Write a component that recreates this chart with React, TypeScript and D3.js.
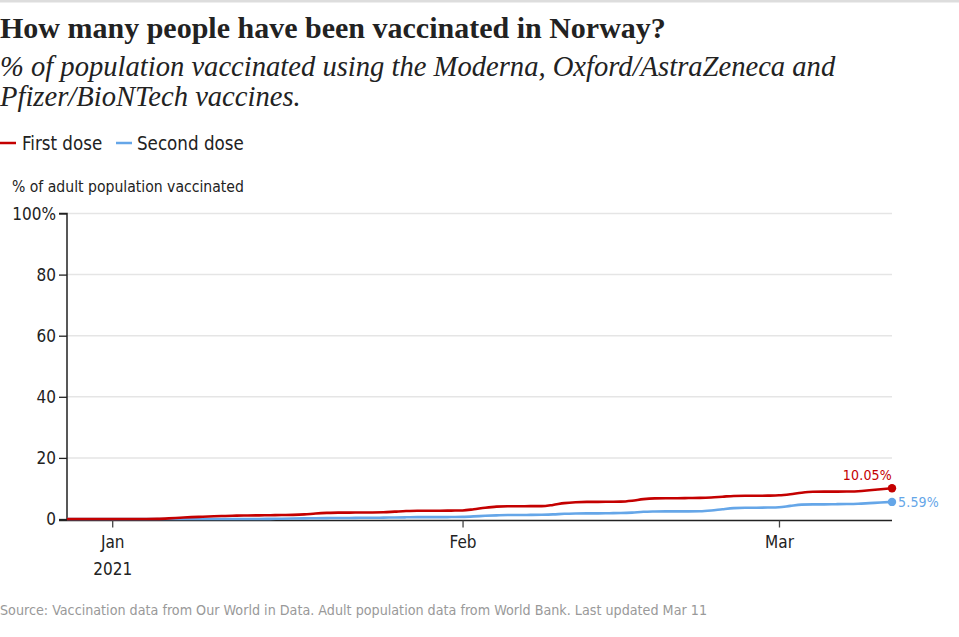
import React from 'react';
import * as d3 from 'd3';

// daily values, 28 Dec 2020 .. 11 Mar 2021
const startDate = new Date(2020, 11, 28);
const endDate = new Date(2021, 2, 11);

const firstDose = [
  0, 0, 0, 0, 0, 0, 0, 0, 0.05, 0.2, 0.4, 0.6, 0.75, 0.9, 1.0, 1.1, 1.15, 1.2, 1.25, 1.3,
  1.35, 1.5, 1.8, 2.0, 2.1, 2.1, 2.15, 2.15, 2.2, 2.4, 2.6, 2.7, 2.7, 2.7, 2.75, 2.8, 3.2, 3.7,
  4.05, 4.15, 4.15, 4.2, 4.2, 4.6, 5.2, 5.5, 5.6, 5.6, 5.65, 5.7, 6.0, 6.5, 6.75, 6.8, 6.8, 6.85,
  6.9, 7.05, 7.3, 7.55, 7.6, 7.6, 7.65, 7.75, 8.1, 8.6, 8.9, 8.95, 8.95, 9.0, 9.1, 9.4, 9.75, 10.05
];

const secondDose = [
  0, 0, 0, 0, 0, 0, 0, 0, 0, 0, 0, 0, 0, 0, 0, 0, 0, 0, 0.05, 0.1,
  0.15, 0.2, 0.25, 0.3, 0.35, 0.35, 0.4, 0.4, 0.45, 0.5, 0.55, 0.6, 0.6, 0.6, 0.65, 0.7, 0.85, 1.05,
  1.2, 1.3, 1.3, 1.35, 1.4, 1.5, 1.7, 1.8, 1.85, 1.85, 1.9, 1.95, 2.1, 2.35, 2.45, 2.5, 2.5, 2.5,
  2.55, 2.8, 3.2, 3.55, 3.7, 3.7, 3.75, 3.85, 4.3, 4.7, 4.8, 4.8, 4.85, 4.9, 5.0, 5.2, 5.4, 5.59
];

const yTicks = [0, 20, 40, 60, 80, 100];
const xTicks = [new Date(2021, 0, 1), new Date(2021, 1, 1), new Date(2021, 2, 1)];
const xTickLabels = ['Jan', 'Feb', 'Mar'];

const RED = '#c40000';
const BLUE = '#65a6e8';
const SANS = "'DejaVu Sans Condensed', 'DejaVu Sans', sans-serif";
const SERIF = "'Liberation Serif', 'Times New Roman', serif";

const App: React.FC = () => {
  const svgRef = React.useRef<SVGSVGElement>(null);
  const width = 959;
  const height = 637;
  const left = 67;
  const right = 892;
  const top = 213.5;
  const bottom = 519;

  React.useEffect(() => {
    if (!svgRef.current) return;
    const svg = d3.select(svgRef.current);
    svg.selectAll('.chart').remove();

    const dates = d3.timeDay.range(startDate, d3.timeDay.offset(endDate, 1));

    const x = d3.scaleTime().domain([startDate, endDate]).range([left, right]);
    const y = d3.scaleLinear().domain([0, 100]).range([bottom, top]);

    const g = svg.append('g').attr('class', 'chart');

    // gridlines
    g.append('g')
      .selectAll('line')
      .data(yTicks.filter(t => t > 0))
      .enter().append('line')
      .attr('x1', left)
      .attr('x2', right)
      .attr('y1', d => y(d))
      .attr('y2', d => y(d))
      .attr('stroke', '#e5e5e5')
      .attr('stroke-width', 1.5);

    // y axis
    const yAxis = g.append('g')
      .attr('transform', `translate(${left},0)`)
      .call(
        d3.axisLeft(y)
          .tickValues(yTicks)
          .tickSize(8)
          .tickPadding(3)
          .tickFormat(d => (+d === 100 ? '100%' : String(d)))
      );
    yAxis.select('.domain').attr('stroke', '#222').attr('stroke-width', 1.5)
      .attr('d', `M-8,${top}H0V${bottom + 1.5}`);
    yAxis.selectAll('.tick line').attr('stroke', '#222').attr('stroke-width', 1.3);
    yAxis.selectAll('.tick text')
      .attr('font-family', SANS)
      .attr('font-size', 17)
      .attr('fill', '#222')
      .attr('dy', '0.35em');

    // x axis
    const xAxis = g.append('g')
      .attr('transform', `translate(0,${bottom + 1.5})`)
      .call(
        d3.axisBottom(x)
          .tickValues(xTicks)
          .tickSize(7)
          .tickPadding(8)
          .tickFormat((_, i) => xTickLabels[i])
      );
    xAxis.select('.domain').attr('stroke', '#222').attr('stroke-width', 1.5)
      .attr('d', `M${left - 8},0H${right}`);
    xAxis.selectAll('.tick line').attr('stroke', '#444').attr('stroke-width', 1.3);
    xAxis.selectAll('.tick text')
      .attr('font-family', SANS)
      .attr('font-size', 17)
      .attr('fill', '#222');
    xAxis.select('.tick text')
      .append('tspan')
      .attr('x', 0)
      .attr('dy', '1.6em')
      .text('2021');

    const line = d3.line<number>()
      .x((_, i) => x(dates[i]))
      .y(d => y(d))
      .curve(d3.curveMonotoneX);

    const series = [
      { values: secondDose, color: BLUE },
      { values: firstDose, color: RED }
    ];

    series.forEach(s => {
      g.append('path')
        .datum(s.values)
        .attr('fill', 'none')
        .attr('stroke', s.color)
        .attr('stroke-width', 2.6)
        .attr('stroke-linejoin', 'round')
        .attr('d', line);
      const last = s.values.length - 1;
      g.append('circle')
        .attr('cx', x(dates[last]))
        .attr('cy', y(s.values[last]))
        .attr('r', 4.2)
        .attr('fill', s.color);
    });

    // end labels
    const lastIdx = firstDose.length - 1;
    g.append('text')
      .attr('x', x(dates[lastIdx]))
      .attr('y', y(firstDose[lastIdx]) - 8)
      .attr('text-anchor', 'end')
      .attr('font-family', SANS)
      .attr('font-size', 14)
      .attr('letter-spacing', 0.2)
      .attr('fill', RED)
      .text(`${firstDose[lastIdx].toFixed(2)}%`);
    g.append('text')
      .attr('x', x(dates[lastIdx]) + 6)
      .attr('y', y(secondDose[lastIdx]))
      .attr('dy', '0.35em')
      .attr('font-family', SANS)
      .attr('font-size', 14)
      .attr('letter-spacing', 0.2)
      .attr('fill', BLUE)
      .text(`${secondDose[lastIdx].toFixed(2)}%`);
  }, []);

  return (
    <svg
      ref={svgRef}
      width={width}
      height={height}
      style={{ position: 'absolute', left: 0, top: 0, background: '#fff' }}
    >
      <rect x={0} y={0} width={width} height={2.5} fill="#dddddd" />
      <text x={0} y={37.5} fontFamily={SERIF} fontWeight="bold" fontSize={30} fill="#222">
        How many people have been vaccinated in Norway?
      </text>
      <text x={0} y={76} fontFamily={SERIF} fontStyle="italic" fontSize={28.6} fill="#222">
        % of population vaccinated using the Moderna, Oxford/AstraZeneca and
      </text>
      <text x={0} y={106} fontFamily={SERIF} fontStyle="italic" fontSize={28.6} fill="#222">
        Pfizer/BioNTech vaccines.
      </text>

      <line x1={0} x2={16} y1={143} y2={143} stroke={RED} strokeWidth={2.5} />
      <text x={22} y={150} fontFamily={SANS} fontSize={18.6} fill="#222">First dose</text>
      <line x1={116} x2={132} y1={143} y2={143} stroke={BLUE} strokeWidth={2.5} />
      <text x={137} y={150} fontFamily={SANS} fontSize={18.6} fill="#222">Second dose</text>

      <text x={12} y={192} fontFamily={SANS} fontSize={15.6} fill="#222">
        % of adult population vaccinated
      </text>

      <text x={0} y={615} fontFamily={SANS} fontSize={14.2} fill="#999">
        Source: Vaccination data from Our World in Data. Adult population data from World Bank. Last updated Mar 11
      </text>
    </svg>
  );
};

export default App;
